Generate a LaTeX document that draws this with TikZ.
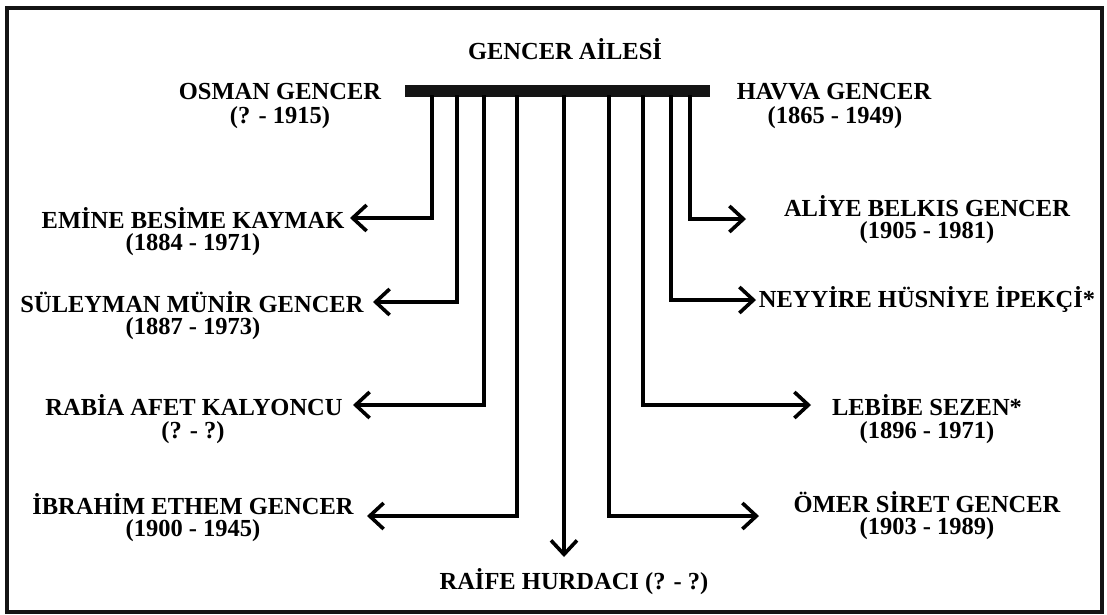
\documentclass[tikz,border=0pt]{standalone}
\usepackage{fontspec}
\setmainfont{Liberation Serif}
\usetikzlibrary{arrows.meta}
\begin{document}
\begin{tikzpicture}[x=1pt,y=-1pt,
  lbl/.style={font=\bfseries\fontsize{24.5}{25}\selectfont, inner sep=0pt, anchor=center},
  conn/.style={line width=3.6pt, line join=miter, -{Straight Barb[length=14pt,width=26pt]}},
  bar/.style={fill=black!92, draw=none, minimum width=305pt, minimum height=12pt, inner sep=0pt}]
\useasboundingbox (0,0) rectangle (1107,614);
\draw[line width=4pt, black!92] (7,8) rectangle (1102,612);
% title and parents
\node[lbl] (title) at (565,49) {GENCER AİLESİ};
\node[lbl] (osman) at (280,92) {OSMAN GENCER};
\node[lbl] (osmand) at (280,118) {(? - 1915)};
\node[lbl] (havva) at (834,92) {HAVVA GENCER};
\node[lbl] (havvad) at (835,118) {(1865 - 1949)};
\node[bar] (bar) at (557.5,91) {};
% children labels
\node[lbl] (emine) at (193,218) {EMİNE BESİME KAYMAK};
\node[lbl] (emined) at (193,245) {(1884 - 1971)};
\node[lbl] (sul) at (192,302) {SÜLEYMAN MÜNİR GENCER};
\node[lbl] (suld) at (193,329) {(1887 - 1973)};
\node[lbl] (rabia) at (194,405) {RABİA AFET KALYONCU};
\node[lbl] (rabiad) at (193,433) {(? - ?)};
\node[lbl] (ibr) at (193,504) {İBRAHİM ETHEM GENCER};
\node[lbl] (ibrd) at (193,531) {(1900 - 1945)};
\node[lbl] (raife) at (574,582) {RAİFE HURDACI (? - ?)};
\node[lbl] (aliye) at (927,206) {ALİYE BELKIS GENCER};
\node[lbl] (aliyed) at (927,233) {(1905 - 1981)};
\node[lbl] (ney) at (927,300) {NEYYİRE HÜSNİYE İPEKÇİ*};
\node[lbl] (leb) at (927,405) {LEBİBE SEZEN*};
\node[lbl] (lebd) at (927,433) {(1896 - 1971)};
\node[lbl] (omer) at (927,502) {ÖMER SİRET GENCER};
\node[lbl] (omerd) at (927,529) {(1903 - 1989)};
% connector start points on the bar and arrow tips
\coordinate (sE) at (432,95);  \coordinate (tE) at (350,218);
\coordinate (sS) at (457,95);  \coordinate (tS) at (373,302);
\coordinate (sR) at (484,95);  \coordinate (tR) at (353,405);
\coordinate (sI) at (517,95);  \coordinate (tI) at (367,516);
\coordinate (sF) at (564,95);  \coordinate (tF) at (564,557);
\coordinate (sO) at (609,95);  \coordinate (tO) at (759,516);
\coordinate (sL) at (643,95);  \coordinate (tL) at (811,405);
\coordinate (sN) at (671,95);  \coordinate (tN) at (756,300);
\coordinate (sA) at (690,95);  \coordinate (tA) at (746,219);
\draw[conn] (sE) |- (tE);
\draw[conn] (sS) |- (tS);
\draw[conn] (sR) |- (tR);
\draw[conn] (sI) |- (tI);
\draw[conn] (sF) -- (tF);
\draw[conn] (sO) |- (tO);
\draw[conn] (sL) |- (tL);
\draw[conn] (sN) |- (tN);
\draw[conn] (sA) |- (tA);
\end{tikzpicture}
\end{document}
